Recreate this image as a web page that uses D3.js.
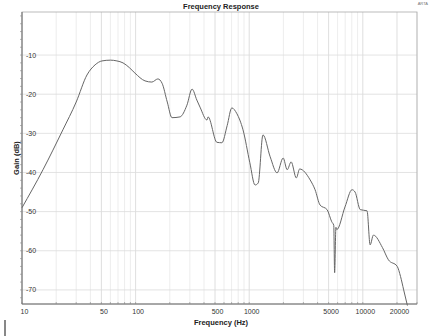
<!DOCTYPE html>
<html><head><meta charset="utf-8">
<script src="https://cdn.jsdelivr.net/npm/d3@7"></script>
<style>body{margin:0;background:#fff}svg{display:block;font-family:"Liberation Sans",Arial,sans-serif}</style>
</head><body><svg id="c" width="433" height="336"></svg>
<script>
const freqs = [10,15.3,22.9,30,37.3,44,50.6,60,68.5,77.5,88,98.6,121,139,157,171,190,209,246,283,314,346,369,425,434,520,575,640,703,780,827,882,1013,1125,1200,1322,1530,1760,1990,2160,2340,2600,2780,3440,3800,4200,4850,5330,5550,5650,5800,5900,6970,8040,8550,9500,10900,11600,12400,14900,16800,20100,21500,22900,24700];
const gains = [-49,-39.3,-29.1,-22,-15.1,-12.5,-11.5,-11.3,-11.5,-12,-13.2,-14.6,-16.6,-16.9,-16.1,-17.2,-22,-26,-25.8,-22.8,-18.7,-21.5,-23.3,-26.6,-25.8,-32.3,-32.4,-28,-23.5,-25,-26.6,-29.1,-37.5,-43.2,-42.7,-30.4,-36,-40.1,-36.3,-39.3,-37.3,-41.4,-39.1,-41.9,-44.4,-48.3,-49.5,-52.6,-53.5,-65.6,-54,-54.6,-48.8,-44.4,-45,-49.5,-49.8,-58.5,-56,-59.2,-62.3,-64,-66.6,-70,-74];
const xTicks = [10,50,100,500,1000,5000,10000,20000];
const yTicks = [-10,-20,-30,-40,-50,-60,-70];

const svg = d3.select("#c");
const L=22,R=417,T=12,B=304;
const x = d3.scaleLog().domain([10,30000]).range([L,R]);
const y = d3.scaleLinear().domain([-73.6,1]).range([B,T]);

const minor=[];
for(let d=10; d<30000; d*=10) for(let k=1;k<10;k++){const v=d*k; if(v<=30000) minor.push(v);}
svg.append("g").selectAll("line").data(minor).join("line")
  .attr("x1",d=>x(d)).attr("x2",d=>x(d)).attr("y1",T).attr("y2",B)
  .attr("stroke",d=>xTicks.includes(d)?"#d6d6d6":"#e8e8e8").attr("stroke-width",0.8);
svg.append("g").selectAll("line").data(yTicks).join("line")
  .attr("x1",L).attr("x2",R).attr("y1",d=>y(d)).attr("y2",d=>y(d))
  .attr("stroke","#dcdcdc").attr("stroke-width",0.8);

svg.append("rect").attr("x",L).attr("y",T).attr("width",R-L).attr("height",B-T)
  .attr("fill","none").attr("stroke","#aaa").attr("stroke-width",0.8);
svg.append("line").attr("x1",L).attr("x2",L).attr("y1",T).attr("y2",B).attr("stroke","#666").attr("stroke-width",0.9);
svg.append("line").attr("x1",L).attr("x2",R).attr("y1",B).attr("y2",B).attr("stroke","#666").attr("stroke-width",0.9);

svg.append("g").selectAll("line").data(d3.range(-72,1,2)).join("line")
  .attr("x1",L-2).attr("x2",L).attr("y1",d=>y(d)).attr("y2",d=>y(d)).attr("stroke","#888").attr("stroke-width",0.6);
svg.append("g").selectAll("line").data(minor).join("line")
  .attr("x1",d=>x(d)).attr("x2",d=>x(d)).attr("y1",B).attr("y2",B-2).attr("stroke","#888").attr("stroke-width",0.6);

svg.append("g").selectAll("text").data(yTicks).join("text")
  .attr("x",L+4).attr("y",d=>y(d)+2.5).attr("font-size",7).attr("fill","#333").text(d=>d);
svg.append("g").selectAll("text").data(xTicks).join("text")
  .attr("x",d=>x(d)+2.5).attr("y",B+10).attr("text-anchor","middle").attr("font-size",7).attr("fill","#333").text(d=>d);

const pts = freqs.map((f,i)=>[f,gains[i]]);
svg.append("path").datum(pts)
  .attr("d",d3.line().x(d=>x(d[0])).y(d=>y(d[1])).curve(d3.curveMonotoneX))
  .attr("fill","none").attr("stroke","#666").attr("stroke-width",1);

svg.append("text").attr("x",221).attr("y",9).attr("text-anchor","middle").attr("font-size",7.5).attr("font-weight","bold").attr("fill","#222").text("Frequency Response");
svg.append("text").attr("x",221).attr("y",325).attr("text-anchor","middle").attr("font-size",7.5).attr("font-weight","bold").attr("fill","#222").text("Frequency (Hz)");
svg.append("text").attr("transform","translate(19,158) rotate(-90)").attr("text-anchor","middle").attr("font-size",7.5).attr("font-weight","bold").attr("fill","#222").text("Gain (dB)");
svg.append("text").attr("x",428).attr("y",5).attr("text-anchor","end").attr("font-size",4).attr("fill","#777").text("ARTA");
svg.append("line").attr("x1",5).attr("x2",5).attr("y1",320).attr("y2",336).attr("stroke","#111").attr("stroke-width",1);
</script></body></html>
